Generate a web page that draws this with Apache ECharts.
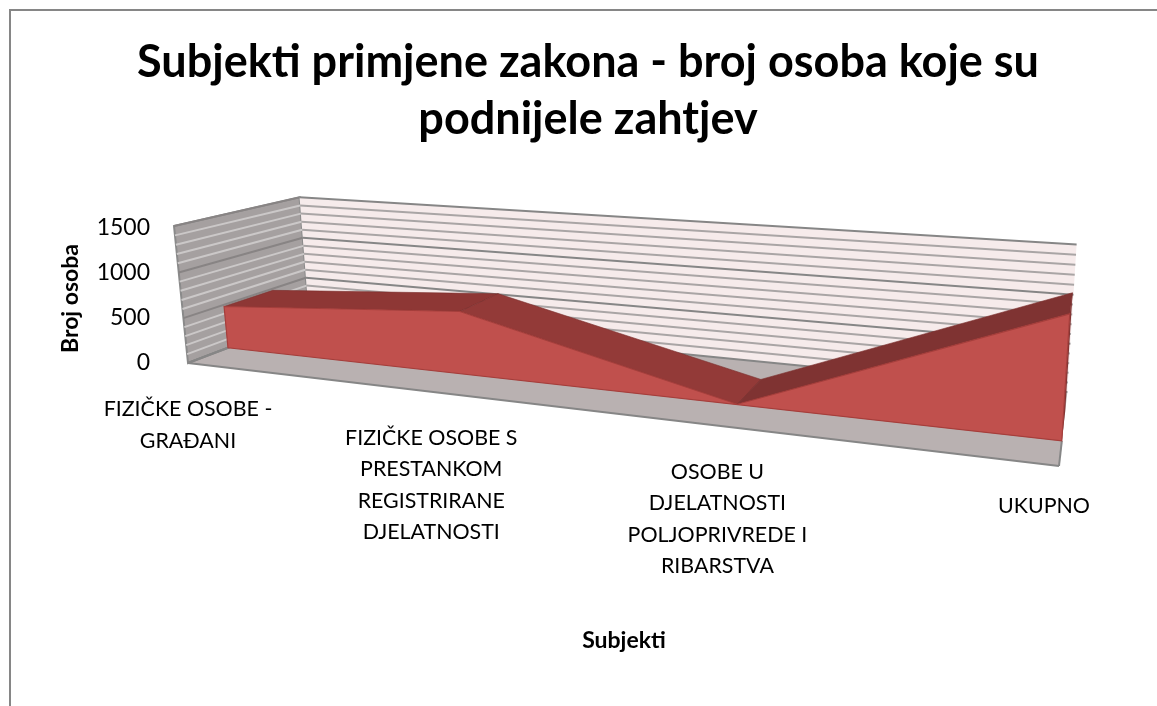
<!DOCTYPE html>
<html>
<head>
<meta charset="utf-8">
<style>
  html, body { margin: 0; padding: 0; background: #fff; }
  #chart { width: 1157px; height: 706px; }
</style>
<script src="https://cdn.jsdelivr.net/npm/echarts@6/dist/echarts.min.js"></script>
</head>
<body>
<div id="chart"></div>
<script>
// data
const categories = ['FIZIČKE OSOBE -\nGRAĐANI', 'FIZIČKE OSOBE S\nPRESTANKOM\nREGISTRIRANE\nDJELATNOSTI', 'OSOBE U\nDJELATNOSTI\nPOLJOPRIVREDE I\nRIBARSTVA', 'UKUPNO'];
const values = [480, 675, 5, 1160];
const majorTicks = [0, 500, 1000, 1500];
const minorTicks = [100, 200, 300, 400, 600, 700, 800, 900, 1100, 1200, 1300, 1400];

const titleText = 'Subjekti primjene zakona - broj osoba koje su\npodnijele zahtjev';
const FONT = 'Lato, Carlito, sans-serif';

// perspective of the 3D box: u along categories, v up the value axis, w into the depth
// corner pictures of the box and how much each axis shrinks
const O = [188, 363], U = [1059, 466], V = [174, 226], W = [309, 317];
const DU = -0.225, DV = -0.025, DW = 0.151;
const FRONT = 0.3, BACK = 0.7; // depth of the area slab

function project(u, v, w) {
  const den = 1 + DU * u + DV * v + DW * w;
  const pick = k => O[k] + (U[k] * (1 + DU) - O[k]) * u + (V[k] * (1 + DV) - O[k]) * v + (W[k] * (1 + DW) - O[k]) * w;
  return [pick(0) / den, pick(1) / den];
}

// goes through the axes of the grid, so values stay on the library's scale
function toBox(api, params, cat, val) {
  const p = api.coord([cat, val]);
  const g = params.coordSys;
  return [(p[0] - g.x) / g.width, (g.y + g.height - p[1]) / g.height];
}

function poly(points, fill, stroke, lineWidth) {
  return {
    type: 'polygon',
    shape: { points: points },
    style: { fill: fill, stroke: stroke || 'none', lineWidth: lineWidth || 0 }
  };
}
function seg(a, b, color, lineWidth) {
  return {
    type: 'line',
    shape: { x1: a[0], y1: a[1], x2: b[0], y2: b[1] },
    style: { stroke: color, lineWidth: lineWidth }
  };
}

function renderBox(params, api) {
  const kids = [];
  const top = toBox(api, params, 0, 1500)[1];
  // left wall, back wall, floor
  kids.push(poly([project(0, 0, 0), project(0, top, 0), project(0, top, 1), project(0, 0, 1)], '#a5a0a0', '#8a8a8a', 2));
  kids.push(poly([project(0, 0, 1), project(0, top, 1), project(1, top, 1), project(1, 0, 1)], '#f6ebeb'));
  kids.push(poly([project(0, 0, 0), project(0, 0, 1), project(1, 0, 1), project(1, 0, 0)], '#b9b1b1'));
  minorTicks.forEach(t => {
    const v = toBox(api, params, 0, t)[1];
    kids.push(seg(project(0, v, 0), project(0, v, 1), '#cbc8c8', 2));
    kids.push(seg(project(0, v, 1), project(1, v, 1), '#a9a5a5', 2));
  });
  majorTicks.forEach(t => {
    const v = toBox(api, params, 0, t)[1];
    kids.push(seg(project(0, v, 0), project(0, v, 1), '#888484', 2));
    kids.push(seg(project(0, v, 1), project(1, v, 1), '#868686', 2));
  });
  // floor edges
  kids.push(seg(project(0, 0, 0), project(1, 0, 0), '#868686', 2));
  kids.push(seg(project(1, 0, 0), project(1, 0, FRONT), '#868686', 2));
  kids.push(seg(project(0, 0, 0), project(0, 0, 1), '#868686', 2));
  return { type: 'group', children: kids };
}

function renderArea(params, api) {
  if (params.dataIndex !== 0) return null;
  const kids = [];
  const last = categories.length - 1;
  const tops = ['#8e3735', '#933a38', '#7f3332'];
  const pts = values.map((val, i) => toBox(api, params, i, val));
  // top faces of the slab, one per segment
  for (let i = 0; i < last; i++) {
    const a = pts[i], b = pts[i + 1];
    kids.push(poly([project(a[0], a[1], FRONT), project(a[0], a[1], BACK), project(b[0], b[1], BACK), project(b[0], b[1], FRONT)], tops[i], '#7a2e2c', 0.6));
  }
  // end cap on the right
  const end = pts[last];
  kids.push(poly([project(1, 0, FRONT), project(1, end[1], FRONT), project(1, end[1], BACK), project(1, 0, BACK)], '#7f3332'));
  // front face
  const front = pts.map(p => project(p[0], p[1], FRONT));
  front.push(project(1, 0, FRONT), project(0, 0, FRONT));
  kids.push(poly(front, '#c0504d', '#a53e3b', 1.2));
  return { type: 'group', children: kids };
}

function renderLabels(params, api) {
  const i = params.dataIndex;
  const p = project(toBox(api, params, i, 0)[0], 0, 0);
  const isLast = i === categories.length - 1;
  return {
    type: 'text',
    style: {
      text: categories[i],
      x: p[0] + (isLast ? -15 : 0),
      y: p[1] + (isLast ? 24 : 30.5),
      align: 'center',
      verticalAlign: 'top',
      font: '21.4px ' + FONT,
      lineHeight: 31.5,
      fill: '#000'
    }
  };
}

const chart = echarts.init(document.getElementById('chart'), null, { renderer: 'canvas' });
chart.setOption({
  animation: false,
  backgroundColor: '#fff',
  title: {
    text: titleText,
    left: 583,
    top: 29,
    textAlign: 'center',
    textStyle: { fontFamily: FONT, fontWeight: 'bold', fontSize: 45, lineHeight: 57, color: '#000' }
  },
  graphic: [{
    type: 'polyline',
    shape: { points: [[10, 720], [10, 10], [1170, 10]] },
    style: { stroke: '#868686', lineWidth: 2, fill: 'none' }
  }],
  grid: { left: 160, top: 228, width: 928, height: 135 },
  xAxis: {
    type: 'category',
    data: categories,
    boundaryGap: false,
    axisLine: { show: false },
    axisTick: { show: false },
    axisLabel: { show: false },
    splitLine: { show: false },
    name: 'Subjekti',
    nameLocation: 'middle',
    nameGap: 266,
    nameTextStyle: { fontFamily: FONT, fontWeight: 'bold', fontSize: 23, color: '#000' }
  },
  yAxis: {
    type: 'value',
    min: 0,
    max: 1500,
    interval: 500,
    axisLine: { show: false },
    axisTick: { show: false },
    splitLine: { show: false },
    axisLabel: { fontFamily: FONT, fontSize: 23, color: '#000', margin: 10, formatter: v => String(v) },
    name: 'Broj osoba',
    nameLocation: 'middle',
    nameRotate: 90,
    nameGap: 78,
    nameTextStyle: { fontFamily: FONT, fontWeight: 'bold', fontSize: 23, color: '#000', padding: [0, 6, 0, 0] }
  },
  series: [
    { type: 'custom', name: 'box', silent: true, renderItem: renderBox, data: [[0, 0]], z: 1 },
    { type: 'custom', name: 'Broj osoba', renderItem: renderArea, data: values.map((v, i) => [i, v]), z: 2 },
    { type: 'custom', name: 'labels', silent: true, renderItem: renderLabels, data: values.map((v, i) => [i, 0]), z: 3 }
  ]
});
</script>
</body>
</html>
